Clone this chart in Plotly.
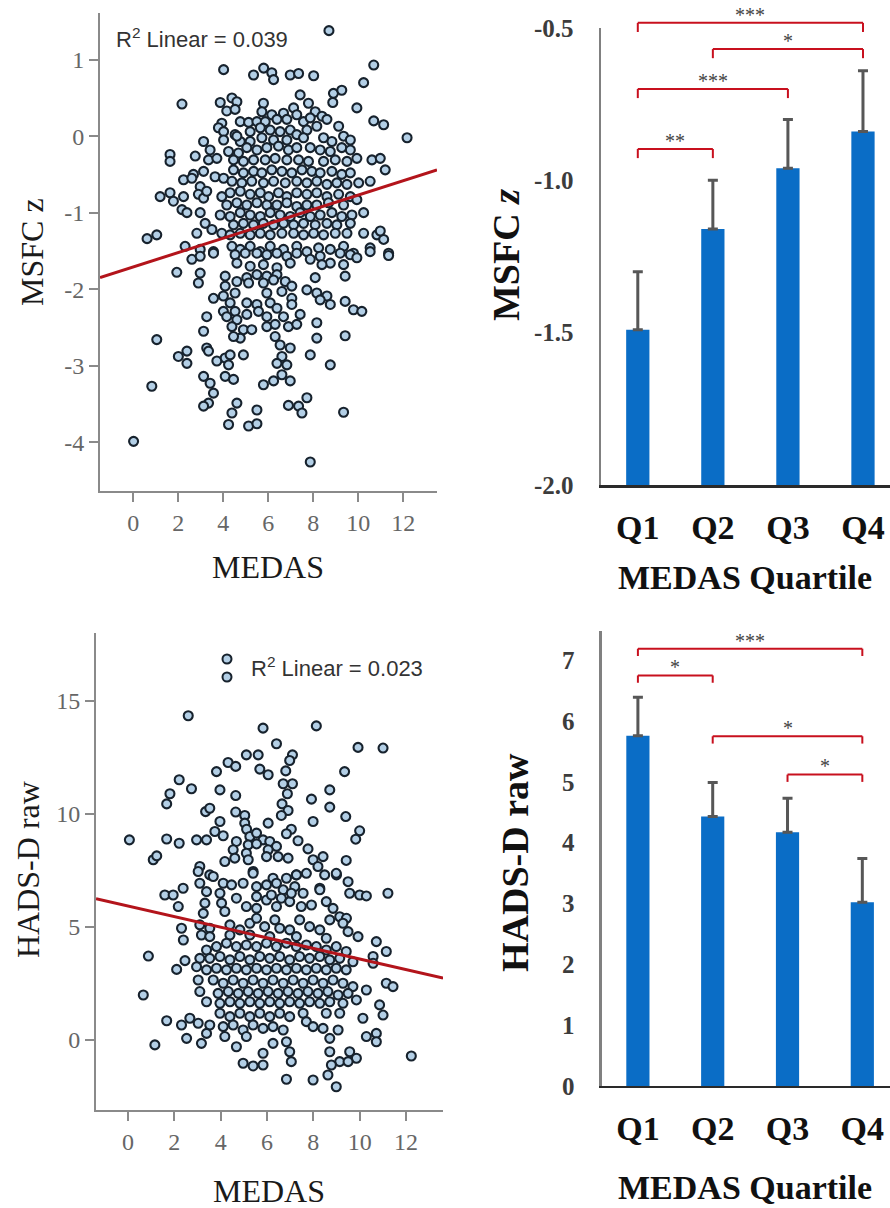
import plotly.graph_objects as go

# ---------------- data ----------------
QUARTILES = ["Q1", "Q2", "Q3", "Q4"]
MSFC_MEAN = [-1.49, -1.16, -0.96, -0.84]
MSFC_ERR = [0.19, 0.16, 0.16, 0.20]
HADS_MEAN = [5.76, 4.43, 4.17, 3.02]
HADS_ERR = [0.63, 0.56, 0.56, 0.72]

# significance brackets: (from index, to index, level in data units, label)
MSFC_SIG = [(0, 3, -0.483, "***"), (1, 3, -0.569, "*"), (0, 2, -0.700, "***"), (0, 1, -0.897, "**")]
HADS_SIG = [(0, 3, 7.19, "***"), (0, 1, 6.75, "*"), (1, 3, 5.75, "*"), (2, 3, 5.12, "*")]

# regression fits: (intercept, slope), R^2 text
MSFC_FIT = (-1.71, 0.094)
HADS_FIT = (5.92, -0.234)
MSFC_R2 = "0.039"
HADS_R2 = "0.023"

MSFC_PTS = [
    (8.7, 1.38), (0.62, -1.34),
    (4.02, 0.87), (5.35, 0.80), (5.80, 0.89), (6.16, 0.83), (6.24, 0.74), (6.98, 0.80), (7.35, 0.82), (8.02, 0.79), (10.69, 0.93),
    (10.24, 0.70), (8.90, 0.56), (9.27, 0.60), (8.87, 0.44), (7.42, 0.54), (2.17, 0.42), (3.87, 0.44), (4.39, 0.50), (4.61, 0.45),
    (5.79, 0.43), (7.79, 0.43), (9.94, 0.37),
    (4.16, 0.33), (4.53, 0.35), (5.72, 0.32), (6.16, 0.28), (6.68, 0.30), (7.13, 0.37), (7.27, 0.28), (8.09, 0.32), (8.39, 0.26),
    (8.61, 0.22), (4.76, 0.19), (5.13, 0.18), (5.50, 0.19), (5.87, 0.19), (6.39, 0.22), (6.83, 0.22), (7.57, 0.19), (7.87, 0.24),
    (10.69, 0.20), (11.13, 0.15), (3.94, 0.17), (3.79, 0.11),
    (4.02, 0.06), (4.02, -0.05), (4.53, 0.02), (5.20, 0.06), (5.65, 0.11), (6.09, 0.08), (6.53, 0.06), (6.98, 0.08), (7.27, 0.02),
    (7.72, 0.08), (8.16, 0.13), (9.13, 0.13), (9.35, 0.00), (9.65, -0.05), (8.83, -0.07), (8.46, -0.02), (7.57, -0.02), (6.83, -0.05),
    (6.24, -0.05), (5.72, -0.02), (5.20, -0.07), (4.76, -0.07), (4.61, 0.00), (12.17, -0.02), (3.13, -0.07),
    (1.64, -0.24), (1.64, -0.33), (2.76, -0.26), (3.42, -0.18), (3.35, -0.31), (3.72, -0.29), (4.24, -0.20), (4.68, -0.22), (5.05, -0.15),
    (5.50, -0.18), (5.94, -0.15), (6.46, -0.13), (6.90, -0.18), (7.27, -0.15), (7.87, -0.15), (8.31, -0.18), (8.76, -0.20), (9.27, -0.15),
    (9.65, -0.18), (9.94, -0.29), (10.61, -0.31), (10.98, -0.29), (11.20, -0.44), (4.46, -0.31), (4.90, -0.33), (5.35, -0.31),
    (5.87, -0.31), (6.31, -0.29), (6.83, -0.31), (7.35, -0.31), (7.79, -0.33), (8.46, -0.33), (8.98, -0.31), (9.50, -0.33),
    (2.24, -0.57), (2.68, -0.50), (3.13, -0.46), (2.61, -0.55), (3.64, -0.53), (4.02, -0.55), (4.46, -0.44), (4.90, -0.48), (5.35, -0.46),
    (5.72, -0.48), (6.16, -0.44), (6.61, -0.46), (7.05, -0.48), (7.50, -0.44), (7.94, -0.46), (8.31, -0.48), (8.83, -0.46), (9.27, -0.50),
    (9.65, -0.48), (10.02, -0.61), (10.53, -0.59), (4.39, -0.59), (4.83, -0.61), (5.27, -0.59), (5.79, -0.61), (6.24, -0.59),
    (6.76, -0.61), (7.27, -0.59), (7.72, -0.61), (8.16, -0.59), (8.61, -0.63), (9.05, -0.61), (9.50, -0.63), (2.98, -0.66),
    (1.20, -0.79), (1.64, -0.74), (1.79, -0.85), (2.24, -0.79), (2.90, -0.76), (3.13, -0.81), (3.27, -0.72), (3.94, -0.79), (4.31, -0.74),
    (4.76, -0.72), (5.20, -0.76), (5.65, -0.74), (6.02, -0.79), (6.46, -0.74), (6.83, -0.79), (7.27, -0.74), (7.72, -0.76), (8.16, -0.74),
    (8.61, -0.79), (9.13, -0.76), (9.65, -0.79), (9.94, -0.83), (4.16, -0.90), (4.61, -0.87), (5.05, -0.90), (5.50, -0.87), (5.94, -0.90),
    (6.39, -0.90), (6.83, -0.87), (7.27, -0.92), (7.72, -0.90), (8.16, -0.90), (8.68, -0.87), (9.35, -0.90), (2.17, -0.96), (2.39, -1.00),
    (2.98, -1.00), (3.20, -1.14), (3.87, -1.03), (4.31, -1.05), (4.76, -1.00), (5.20, -1.03), (5.65, -1.05), (6.09, -1.00), (6.53, -1.03),
    (6.98, -1.05), (7.42, -1.00), (7.87, -1.05), (8.31, -1.03), (8.83, -1.00), (9.27, -1.05), (9.72, -1.03), (10.24, -1.00),
    (4.46, -1.16), (4.90, -1.14), (5.35, -1.16), (5.79, -1.14), (6.24, -1.16), (6.68, -1.14), (7.13, -1.16), (7.57, -1.14), (8.09, -1.16),
    (8.61, -1.14), (9.05, -1.16), (9.65, -1.14),
    (1.05, -1.29), (2.83, -1.27), (3.50, -1.22), (3.94, -1.27), (4.31, -1.29), (4.76, -1.27), (5.20, -1.29), (5.65, -1.27), (6.09, -1.29),
    (6.61, -1.27), (7.13, -1.27), (7.57, -1.29), (8.02, -1.27), (8.46, -1.29), (8.98, -1.27), (9.50, -1.27), (10.24, -1.27),
    (10.83, -1.29), (11.13, -1.35), (10.98, -1.24), (2.31, -1.44), (2.98, -1.48), (3.57, -1.51), (4.39, -1.44), (4.76, -1.48),
    (5.20, -1.44), (5.65, -1.51), (6.09, -1.44), (6.68, -1.48), (7.27, -1.44), (7.72, -1.51), (8.24, -1.46), (8.76, -1.48),
    (9.35, -1.44), (9.79, -1.53), (10.53, -1.46), (11.35, -1.53),
    (2.61, -1.61), (2.98, -1.57), (3.57, -1.53), (4.53, -1.55), (4.98, -1.53), (5.50, -1.53), (5.94, -1.55), (6.39, -1.53), (6.83, -1.57),
    (7.27, -1.53), (7.87, -1.61), (8.31, -1.57), (8.76, -1.66), (9.20, -1.53), (9.65, -1.55), (9.94, -1.59), (10.53, -1.51),
    (11.35, -1.56), (4.61, -1.66), (5.20, -1.70), (5.79, -1.68), (6.39, -1.72), (6.98, -1.66), (8.39, -1.68), (9.35, -1.68), (1.94, -1.78),
    (2.98, -1.79), (2.90, -1.92), (4.09, -1.83), (4.61, -1.90), (5.05, -1.85), (5.50, -1.81), (5.94, -1.83), (6.39, -1.81), (6.76, -1.90),
    (4.09, -1.96), (4.53, -2.05), (5.13, -1.92), (5.79, -1.92), (6.24, -1.88), (6.61, -2.03), (7.05, -1.96), (7.72, -2.01), (8.09, -1.85),
    (8.16, -2.05), (8.61, -2.09), (9.42, -1.83), (3.57, -2.12),
    (4.01, -2.09), (4.31, -2.18), (4.01, -2.29), (4.53, -2.29), (5.05, -2.18), (5.50, -2.20), (5.94, -2.05), (6.09, -2.18), (6.39, -2.25),
    (7.05, -2.12), (7.05, -2.20), (8.31, -2.14), (8.76, -2.20), (9.42, -2.16), (9.79, -2.27), (10.16, -2.29), (3.27, -2.36),
    (4.16, -2.36), (4.61, -2.40), (5.05, -2.33), (5.57, -2.29), (5.94, -2.36), (6.68, -2.36), (7.42, -2.33),
    (3.13, -2.55), (4.39, -2.49), (4.90, -2.53), (5.27, -2.53), (4.76, -2.64), (4.46, -2.62), (5.94, -2.49), (6.31, -2.46), (6.90, -2.49),
    (7.27, -2.46), (8.16, -2.44), (8.16, -2.64), (9.42, -2.61), (1.05, -2.66), (6.31, -2.62),
    (2.39, -2.81), (2.01, -2.88), (2.39, -2.97), (3.27, -2.77), (3.35, -2.81), (3.72, -2.94), (4.09, -2.90), (4.31, -2.86), (4.24, -2.99),
    (4.90, -2.86), (6.53, -2.73), (6.98, -2.77), (6.61, -2.88), (6.39, -2.97), (6.83, -2.99), (7.87, -2.86), (8.76, -2.99),
    (3.13, -3.14), (3.42, -3.23), (3.57, -3.36), (3.35, -3.49), (3.13, -3.53), (4.09, -3.14), (4.46, -3.18), (5.79, -3.25), (6.24, -3.20),
    (6.61, -3.12), (6.98, -3.20), (0.83, -3.27),
    (4.61, -3.49), (4.39, -3.62), (4.24, -3.77), (5.50, -3.58), (5.13, -3.79), (5.50, -3.76), (6.90, -3.52), (7.35, -3.53), (7.72, -3.42),
    (7.50, -3.62), (9.35, -3.61), (0.02, -3.99), (7.87, -4.26),
]

HADS_PTS = [
    (2.60, 14.34), (5.83, 13.79), (8.13, 13.89), (6.41, 13.10), (9.93, 12.94), (11.01, 12.91), (5.11, 12.61), (5.62, 12.61),
    (7.10, 12.61), (6.98, 12.36), (4.32, 12.27), (4.65, 12.10), (5.69, 11.98), (6.05, 11.73), (6.81, 11.90), (9.35, 11.87),
    (3.82, 11.87), (2.21, 11.51), (2.74, 11.11), (3.97, 11.06), (6.70, 11.33), (7.10, 11.33), (6.88, 10.89), (8.71, 11.06),
    (1.81, 10.89), (1.67, 10.44), (4.65, 10.81), (7.92, 10.65), (6.65, 10.44), (8.71, 10.30), (3.35, 10.10), (3.53, 10.25),
    (4.65, 10.08), (6.91, 10.15), (6.62, 9.93), (5.04, 9.93), (9.40, 9.88), (3.97, 9.66), (5.04, 9.59), (6.05, 9.59), (7.99, 9.66),
    (5.12, 9.32), (3.75, 9.22), (7.05, 9.32), (6.84, 9.12), (10.00, 9.25), (9.83, 8.88), (0.06, 8.85), (1.67, 8.89), (2.21, 8.70),
    (2.96, 8.85), (3.39, 8.85), (4.11, 9.03), (4.68, 8.78), (5.26, 9.00), (5.55, 9.15), (5.83, 8.85), (6.12, 8.78), (6.41, 8.56),
    (7.34, 8.81), (7.77, 8.45), (5.19, 8.63), (5.55, 8.67), (4.54, 8.41), (5.11, 8.26), (6.05, 8.41), (6.48, 8.11), (6.91, 8.04),
    (1.09, 7.97), (1.24, 8.14), (4.18, 7.89), (4.61, 8.04), (5.19, 7.97), (5.98, 8.11), (7.99, 7.97), (8.42, 8.11), (9.42, 7.94),
    (8.20, 7.67), (3.10, 7.67), (5.40, 7.45), (3.53, 7.30), (6.26, 7.15), (7.27, 7.30), (9.00, 7.30),
    (3.03, 7.45), (3.68, 7.23), (3.10, 6.93), (2.38, 6.71), (1.59, 6.41), (1.95, 6.41), (3.39, 6.56), (4.11, 6.93), (4.47, 6.86),
    (4.97, 6.93), (5.40, 7.37), (5.55, 6.78), (5.98, 6.86), (6.41, 6.93), (6.84, 7.15), (7.27, 7.30), (7.70, 7.37), (6.70, 6.64),
    (7.20, 6.78), (7.56, 6.49), (8.49, 7.30), (8.99, 7.37), (9.50, 7.00), (8.28, 6.71), (9.57, 6.49), (10.00, 6.41), (10.29, 6.37),
    (11.22, 6.49),
    (2.17, 5.90), (3.32, 6.05), (3.25, 5.60), (3.97, 6.49), (4.04, 6.05), (4.18, 5.68), (4.68, 6.27), (5.11, 5.90), (5.55, 6.34),
    (5.55, 5.82), (5.98, 6.19), (6.19, 6.41), (6.41, 5.90), (6.62, 6.27), (6.98, 6.12), (7.05, 6.49), (7.48, 5.90), (7.92, 5.97),
    (8.28, 6.64), (8.56, 6.12), (8.85, 5.82), (9.14, 5.45), (9.43, 5.38), (10.72, 4.35),
    (2.31, 4.94), (2.39, 4.42), (3.10, 5.09), (3.53, 4.94), (3.17, 4.64), (3.53, 4.57), (4.40, 5.09), (4.83, 4.87), (5.26, 5.16),
    (5.55, 5.38), (5.90, 5.01), (6.34, 5.31), (6.55, 4.94), (6.98, 4.87), (7.41, 5.31), (7.84, 5.01), (8.28, 4.87), (8.71, 5.31),
    (9.28, 5.16), (9.50, 4.79), (9.93, 4.57), (4.40, 4.64), (5.26, 4.64), (6.12, 4.57), (7.27, 4.57), (8.56, 4.50),
    (0.88, 3.71), (2.10, 3.12), (2.46, 3.51), (3.10, 3.61), (3.39, 3.98), (3.82, 4.13), (4.25, 4.28), (4.68, 4.13), (5.11, 4.20),
    (5.55, 4.13), (5.98, 4.28), (6.41, 4.13), (6.84, 4.28), (7.27, 4.13), (7.70, 4.20), (8.13, 4.13), (8.56, 3.98), (8.99, 4.13),
    (9.42, 3.91), (10.58, 3.69), (10.58, 3.39), (11.15, 3.91), (2.96, 3.24), (3.53, 3.61), (3.97, 3.69), (4.40, 3.54), (4.83, 3.69),
    (5.26, 3.54), (5.69, 3.69), (6.12, 3.61), (6.55, 3.69), (6.98, 3.54), (7.41, 3.69), (7.84, 3.61), (8.28, 3.69), (8.71, 3.54),
    (9.14, 3.61), (9.71, 3.46), (3.39, 3.10), (3.82, 3.17), (4.25, 3.10), (4.68, 3.17), (5.11, 3.10), (5.55, 3.17), (5.98, 3.10),
    (6.41, 3.17), (6.84, 3.10), (7.27, 3.17), (7.70, 3.10), (8.13, 3.17), (8.56, 3.10), (8.99, 3.17), (9.42, 3.10),
    (3.03, 2.65), (3.10, 2.14), (3.39, 1.69), (0.66, 1.99), (3.68, 2.65), (4.11, 2.51), (4.54, 2.65), (4.97, 2.51), (5.40, 2.65),
    (5.83, 2.51), (6.26, 2.65), (6.70, 2.51), (7.13, 2.65), (7.56, 2.51), (7.99, 2.65), (8.42, 2.51), (8.85, 2.65), (9.28, 2.51),
    (9.71, 2.36), (10.29, 2.21), (11.15, 2.51), (11.44, 2.36), (3.89, 2.06), (4.33, 2.14), (4.76, 2.06), (5.19, 2.14), (5.62, 2.06),
    (6.05, 2.14), (6.48, 2.06), (6.91, 2.14), (7.34, 2.06), (7.77, 2.14), (8.20, 2.06), (8.63, 2.14), (9.07, 1.99), (9.50, 2.06),
    (9.86, 1.77), (3.97, 1.62), (4.40, 1.69), (4.83, 1.62), (5.26, 1.69), (5.69, 1.62), (6.12, 1.69), (6.55, 1.62), (6.98, 1.69),
    (7.41, 1.62), (7.84, 1.69), (8.28, 1.62), (8.71, 1.69), (9.28, 1.62), (10.86, 1.55), (11.01, 1.10),
    (1.67, 0.85), (2.67, 0.96), (3.03, 0.74), (2.31, 0.66), (2.53, 0.07), (1.16, -0.22), (3.53, 0.66), (3.39, 0.29), (3.17, -0.15),
    (3.97, 1.18), (4.40, 1.03), (4.83, 1.18), (5.26, 1.03), (5.69, 1.18), (6.12, 1.03), (6.55, 1.18), (6.98, 1.03), (7.56, 1.18),
    (4.11, 0.59), (4.54, 0.66), (4.97, 0.44), (5.40, 0.66), (5.83, 0.51), (6.26, 0.59), (6.70, 0.44), (7.70, 0.81), (7.99, 0.59),
    (8.42, 0.51), (8.56, 1.18), (9.14, 1.18), (9.07, 0.44), (10.14, 0.96), (10.29, 0.15), (10.72, 0.29), (10.72, -0.08), (4.18, 0.15),
    (5.11, 0.15), (6.26, -0.15), (4.68, -0.30), (8.71, 0.07), (12.23, -0.71),
    (6.84, -0.08), (6.98, -0.52), (7.05, -0.96), (5.83, -0.59), (4.97, -1.03), (5.40, -1.15), (5.83, -1.11), (6.84, -1.74),
    (7.99, -1.77), (8.63, -1.55), (8.99, -2.07), (8.71, -0.52), (9.14, -0.96), (9.57, -0.52), (9.86, -0.81), (9.50, -0.96),
    (8.78, -1.11),
]

MEDAS_TICKS = [0, 2, 4, 6, 8, 10, 12]
MSFC_TICKS = [-4, -3, -2, -1, 0, 1]
HADS_TICKS = [0, 5, 10, 15]
MSFC_BAR_TICKS = [-2.0, -1.5, -1.0, -0.5]
HADS_BAR_TICKS = [0, 1, 2, 3, 4, 5, 6, 7]

# ---------------- layout constants ----------------
W, H = 890, 1208
SERIF = "Liberation Serif, Times New Roman, serif"
SANS = "Liberation Sans, Arial, sans-serif"

DOM = {
    "tl": ([0.1124, 0.491], [0.5935, 0.9892]),
    "tr": ([0.6753, 1.0], [0.5985, 0.9768]),
    "bl": ([0.1079, 0.4978], [0.0811, 0.4760]),
    "br": ([0.6764, 1.0], [0.1010, 0.4776]),
}
RNG = {
    "tl": ([-1.47, 13.5], [-4.64, 1.61]),
    "tr": ([-0.49, 3.36], [-2.0, -0.5]),
    "bl": ([-1.38, 13.6], [-3.1, 18.0]),
    "br": ([-0.48, 3.37], [0.0, 7.48]),
}

MARK_FILL = "#b3cfe6"
MARK_LINE = "#17222d"
FIT_COLOR = "#b3141b"
BAR_COLOR = "#0a6dc6"
SIG_COLOR = "#c8101e"

fig = go.Figure()


def unzip(pts):
    return [p[0] for p in pts], [p[1] for p in pts]


# ---------------- scatter panels ----------------
for key, xa, ya, pts, fit in [("tl", "x", "y", MSFC_PTS, MSFC_FIT), ("bl", "x3", "y3", HADS_PTS, HADS_FIT)]:
    xs, ys = unzip(pts)
    fig.add_trace(go.Scatter(
        x=xs, y=ys, mode="markers", xaxis=xa, yaxis=ya, showlegend=False,
        marker=dict(size=9, color=MARK_FILL, line=dict(color=MARK_LINE, width=2.1)),
        hoverinfo="skip",
    ))
    xr = RNG[key][0]
    fig.add_trace(go.Scatter(
        x=xr, y=[fit[0] + fit[1] * v for v in xr], mode="lines", xaxis=xa, yaxis=ya,
        showlegend=False, line=dict(color=FIT_COLOR, width=3), hoverinfo="skip",
    ))

# ---------------- bar panels ----------------
for key, xa, ya, means, errs in [("tr", "x2", "y2", MSFC_MEAN, MSFC_ERR), ("br", "x4", "y4", HADS_MEAN, HADS_ERR)]:
    base = RNG[key][1][0]
    fig.add_trace(go.Bar(
        x=QUARTILES, y=[m - base for m in means], base=base, xaxis=xa, yaxis=ya,
        width=0.31, marker=dict(color=BAR_COLOR, line=dict(width=0)), showlegend=False,
        hoverinfo="skip",
    ))
    fig.add_trace(go.Scatter(
        x=QUARTILES, y=means, mode="markers", xaxis=xa, yaxis=ya, showlegend=False,
        marker=dict(size=1, color="rgba(0,0,0,0)"),
        error_y=dict(type="data", symmetric=False, array=errs, arrayminus=[0] * len(errs),
                     color="#575757", thickness=3, width=5),
        hoverinfo="skip",
    ))

# ---------------- axes ----------------
scatter_axis = dict(
    showline=True, linecolor="#8a8a8a", linewidth=2, ticks="outside", ticklen=9, tickwidth=2,
    tickcolor="#8a8a8a", showgrid=False, zeroline=False, automargin=False,
    tickfont=dict(family=SERIF, size=24, color="#666666"),
)
lay = dict(
    xaxis=dict(domain=DOM["tl"][0], range=RNG["tl"][0], anchor="y", tickvals=MEDAS_TICKS,
               ticktext=[str(v) for v in MEDAS_TICKS], **scatter_axis),
    yaxis=dict(domain=DOM["tl"][1], range=RNG["tl"][1], anchor="x", tickvals=MSFC_TICKS,
               ticktext=[str(v) for v in MSFC_TICKS], **scatter_axis),
    xaxis3=dict(domain=DOM["bl"][0], range=RNG["bl"][0], anchor="y3", tickvals=MEDAS_TICKS,
                ticktext=[str(v) for v in MEDAS_TICKS], **scatter_axis),
    yaxis3=dict(domain=DOM["bl"][1], range=RNG["bl"][1], anchor="x3", tickvals=HADS_TICKS,
                ticktext=[str(v) for v in HADS_TICKS], **scatter_axis),
)

bar_x = dict(type="category", showline=True, linecolor="#2a2a2a", linewidth=2.5, ticks="",
             showgrid=False, zeroline=False, ticklabelstandoff=11, automargin=False,
             tickfont=dict(family=SERIF, size=34, color="#111111", weight="bold"))
bar_y = dict(showline=True, linecolor="#808080", linewidth=2.5, ticks="", showgrid=False,
             zeroline=False, ticklabelstandoff=20, automargin=False,
             tickfont=dict(family=SERIF, size=25, color="#3c3c3c", weight="bold"))
lay["xaxis2"] = dict(domain=DOM["tr"][0], range=RNG["tr"][0], anchor="y2", **bar_x)
lay["yaxis2"] = dict(domain=DOM["tr"][1], range=RNG["tr"][1], anchor="x2", tickvals=MSFC_BAR_TICKS,
                     ticktext=["%.1f" % v for v in MSFC_BAR_TICKS], **bar_y)
lay["xaxis4"] = dict(domain=DOM["br"][0], range=RNG["br"][0], anchor="y4", **bar_x)
lay["yaxis4"] = dict(domain=DOM["br"][1], range=RNG["br"][1], anchor="x4", tickvals=HADS_BAR_TICKS,
                     ticktext=[str(v) for v in HADS_BAR_TICKS], **bar_y)


# ---------------- significance brackets ----------------
def to_paper(key, xv, yv):
    (dx, dy), (rx, ry) = DOM[key], RNG[key]
    px = dx[0] + (xv - rx[0]) / (rx[1] - rx[0]) * (dx[1] - dx[0])
    py = dy[0] + (yv - ry[0]) / (ry[1] - ry[0]) * (dy[1] - dy[0])
    return px, py


shapes, annots = [], []
for key, sigs, drop in [("tr", MSFC_SIG, 0.03), ("br", HADS_SIG, 0.12)]:
    for i, j, lvl, lab in sigs:
        x0, y0 = to_paper(key, i, lvl)
        x1, _ = to_paper(key, j, lvl)
        _, yd = to_paper(key, i, lvl - drop)
        line = dict(color=SIG_COLOR, width=2)
        shapes += [
            dict(type="line", xref="paper", yref="paper", x0=x0, x1=x1, y0=y0, y1=y0, line=line),
            dict(type="line", xref="paper", yref="paper", x0=x0, x1=x0, y0=y0, y1=yd, line=line),
            dict(type="line", xref="paper", yref="paper", x0=x1, x1=x1, y0=y0, y1=yd, line=line),
        ]
        annots.append(dict(text=lab, xref="paper", yref="paper", x=(x0 + x1) / 2, y=y0 - 0.004,
                           xanchor="center", yanchor="bottom", showarrow=False,
                           font=dict(family=SERIF, size=20, color="#444444")))

# legend circles of the bottom scatter
for cy in (659, 677):
    shapes.append(dict(type="circle", xref="paper", yref="paper",
                       x0=(227 - 4.5) / W, x1=(227 + 4.5) / W,
                       y0=1 - (cy + 4.5) / H, y1=1 - (cy - 4.5) / H,
                       fillcolor=MARK_FILL, line=dict(color=MARK_LINE, width=2)))


def ann(text, px, py, size, family=SERIF, color="#1a1a1a", angle=0, xanchor="center"):
    annots.append(dict(text=text, xref="paper", yref="paper", x=px / W, y=1 - py / H,
                       xanchor=xanchor, yanchor="middle", showarrow=False, textangle=angle,
                       font=dict(family=family, size=size, color=color)))


ann("R<sup>2</sup> Linear = " + MSFC_R2, 114, 38, 22, family=SANS, color="#333333", xanchor="left")
ann("R<sup>2</sup> Linear = " + HADS_R2, 249, 667, 22, family=SANS, color="#333333", xanchor="left")
ann("MEDAS", 268, 567, 32)
ann("MEDAS", 269, 1191, 32)
ann("MSFC z", 32, 252, 32, angle=-90)
ann("HADS-D raw", 28, 870, 32, angle=-90)
ann("<b>MSFC <i>z</i></b>", 506, 255, 38, color="#111111", angle=-90)
ann("<b>HADS-D raw</b>", 515, 863, 38, color="#111111", angle=-90)
ann("<b>MEDAS Quartile</b>", 745, 578, 34, color="#111111")
ann("<b>MEDAS Quartile</b>", 745, 1187, 34, color="#111111")

fig.update_layout(
    width=W, height=H, autosize=False, margin=dict(l=0, r=0, t=0, b=0, pad=0, autoexpand=False),
    paper_bgcolor="white", plot_bgcolor="white", showlegend=False,
    shapes=shapes, annotations=annots, **lay,
)

fig.write_html(
    "out.html",
    config={"displayModeBar": False, "staticPlot": True},
    post_script="document.documentElement.style.margin='0';document.body.style.margin='0';"
                "document.body.style.padding='0';document.body.style.overflow='hidden';",
)
